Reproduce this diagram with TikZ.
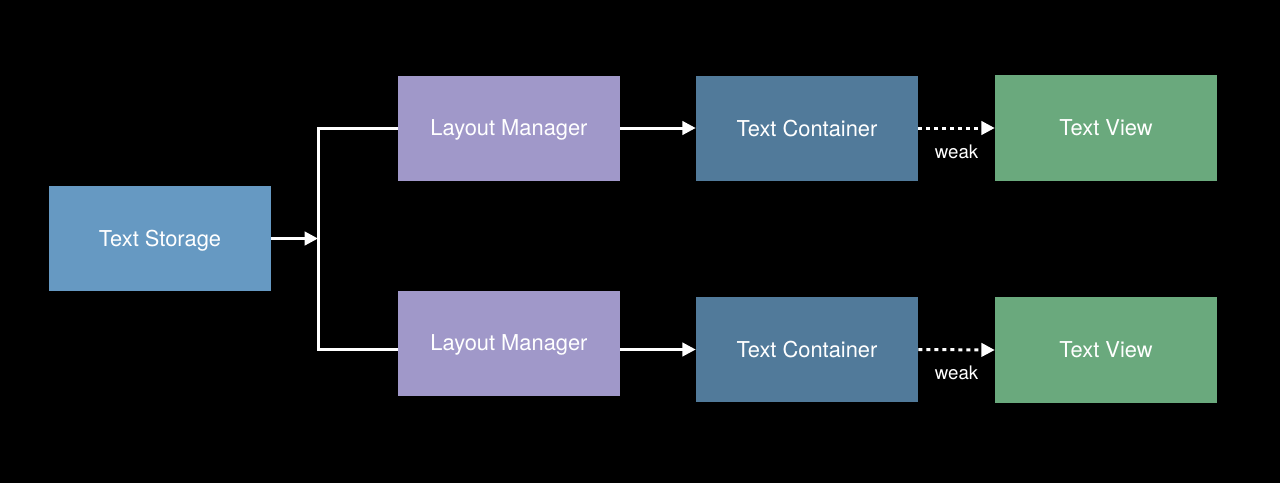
\documentclass[tikz,border=0pt]{standalone}
\usepackage{fontspec}
\setmainfont{TeX Gyre Heros}
\usetikzlibrary{arrows.meta}
\definecolor{storagecol}{HTML}{6699C2}
\definecolor{managercol}{HTML}{A098C9}
\definecolor{containercol}{HTML}{517A9A}
\definecolor{viewcol}{HTML}{6AA97D}
\begin{document}
\begin{tikzpicture}[x=0.75pt,y=-0.75pt,
		box/.style={minimum width=166.5pt,minimum height=78.75pt,inner sep=0pt,text depth=0pt,text=white,font=\fontsize{16.4}{19}\selectfont},
		link/.style={white,line width=2.25pt,-{Triangle[length=10pt,width=10pt]}},
		weaklink/.style={link,dash pattern=on 3pt off 3pt},
		weaklabel/.style={below=8pt,text=white,font=\fontsize{14}{16}\selectfont}]
	\fill[black] (0,0) rectangle (1280,483) ;
	\useasboundingbox (0,0) rectangle (1280,483) ;
	% boxes
	\node[box,fill=storagecol] (storage) at (160,238.5) {Text Storage} ;
	\node[box,fill=managercol] (managerA) at (509,128) {Layout Manager} ;
	\node[box,fill=managercol] (managerB) at (509,343) {Layout Manager} ;
	\node[box,fill=containercol] (containerA) at (807,128) {Text Container} ;
	\node[box,fill=containercol] (containerB) at (807,349.5) {Text Container} ;
	\node[box,fill=viewcol,minimum height=80pt] (viewA) at (1106,128) {Text View} ;
	\node[box,fill=viewcol,minimum height=80pt] (viewB) at (1106,350) {Text View} ;
	% connectors
	\coordinate (fork) at (318,238.5) ;
	\draw[link] (storage.east) -- (fork) ;
	\draw[white,line width=2.25pt] (managerA.west) -- (fork |- managerA.west) -- (fork |- 0,349) -- (managerB.west |- 0,349) ;
	\draw[link] (managerA.east) -- (containerA.west) ;
	\draw[link] (managerB.east |- containerB.west) -- (containerB.west) ;
	\draw[weaklink] (containerA.east) -- node[weaklabel] {weak} (viewA.west) ;
	\draw[weaklink] (containerB.east) -- node[weaklabel] {weak} (viewB.west) ;
\end{tikzpicture}
\end{document}
